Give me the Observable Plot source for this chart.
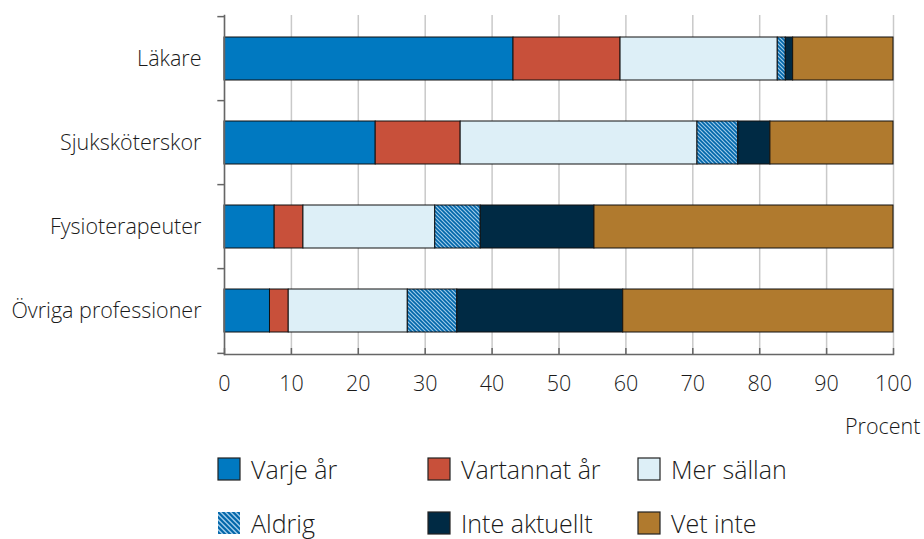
<!DOCTYPE html>
<html>
<head>
<meta charset="utf-8">
<script src="https://cdn.jsdelivr.net/npm/d3@7"></script>
<script src="https://cdn.jsdelivr.net/npm/@observablehq/plot@0.6"></script>
<style>
  html, body { margin: 0; padding: 0; background: #fff; }
  #wrap { position: relative; width: 924px; height: 539px; font-family: "Open Sans", sans-serif; font-weight: 300; }
  #legend { position: absolute; left: 0; top: 0; width: 924px; height: 539px; pointer-events: none; }
  .item { position: absolute; display: flex; align-items: center; font-size: 25px; font-weight: 300; color: #1a1a1a; white-space: nowrap; }
  .item svg { margin-right: 10px; display: block; }
</style>
</head>
<body>
<div id="wrap"><div id="chart"></div><div id="legend"></div></div>
<script>
const categories = ["Läkare", "Sjuksköterskor", "Fysioterapeuter", "Övriga professioner"];
const seriesNames = ["Varje år", "Vartannat år", "Mer sällan", "Aldrig", "Inte aktuellt", "Vet inte"];
const seriesColors = ["#0079C1", "#C8503A", "#DDEFF7", "url(#hatch)", "#002A44", "#B07A2E"];

// Values per series, in category order (percent)
const varjeAr      = [43.2, 22.6, 7.5, 6.8];
const vartannatAr  = [16.0, 12.7, 4.3, 2.8];
const merSallan    = [23.5, 35.4, 19.7, 17.8];
const aldrig       = [1.2, 6.1, 6.8, 7.4];
const inteAktuellt = [1.1, 4.8, 17.0, 24.8];
const vetInte      = [15.0, 18.4, 44.7, 40.4];

const xTicks = [0, 10, 20, 30, 40, 50, 60, 70, 80, 90, 100];

const seriesValues = [varjeAr, vartannatAr, merSallan, aldrig, inteAktuellt, vetInte];
const data = [];
categories.forEach((c, ci) => {
  seriesNames.forEach((s, si) => {
    data.push({category: c, series: s, value: seriesValues[si][ci]});
  });
});

const W = 924, H = 445, mTop = 15, mBottom = 91, mLeft = 224, mRight = 31;
const step = (H - mTop - mBottom) / categories.length;

const plot = Plot.plot({
  width: W,
  height: H,
  marginTop: mTop,
  marginBottom: mBottom,
  marginLeft: mLeft,
  marginRight: mRight,
  style: {fontFamily: "Open Sans", fontSize: "21.5px", fontWeight: 300, color: "#1a1a1a", background: "#fff", overflow: "visible"},
  x: {domain: [0, 100], ticks: xTicks, label: null},
  y: {domain: categories, paddingInner: 0.49, paddingOuter: 0.245, label: null},
  color: {domain: seriesNames, range: seriesColors},
  marks: [
    Plot.gridX(xTicks, {stroke: "#c9c9c9", strokeOpacity: 1, strokeWidth: 1.5}),
    Plot.barX(data, Plot.stackX({
      x: "value", y: "category", fill: "series", order: seriesNames,
      stroke: "#111", strokeWidth: 1, inset: 0
    })),
    Plot.frame({anchor: "left", stroke: "#666", strokeWidth: 1.5}),
    Plot.frame({anchor: "bottom", stroke: "#666", strokeWidth: 1.5}),
    // band-boundary ticks on the left axis
    Plot.ruleY(categories, {y: d => d, dy: -step / 2, x1: -1, x2: 0, stroke: "#666", strokeWidth: 1.5}),
    Plot.ruleY(categories.slice(-1), {y: d => d, dy: step / 2, x1: -1, x2: 0, stroke: "#666", strokeWidth: 1.5}),
    // inward ticks on the bottom axis
    Plot.axisX({ticks: xTicks, tickSize: 6, dy: -6, tickFormat: () => "", stroke: "#666", strokeWidth: 1.5, label: null}),
    Plot.axisX({ticks: xTicks, tickSize: 0, tickPadding: 21, label: null, fill: "#1a1a1a"}),
    Plot.axisY({tickSize: 0, tickPadding: 23, label: null, fill: "#1a1a1a"}),
    Plot.text(["Procent"], {frameAnchor: "bottom-right", dx: 27, dy: 73, textAnchor: "end", lineAnchor: "middle", fill: "#1a1a1a"})
  ]
});

// hatch pattern definitions
const svgSel = d3.select(plot);
const defs = svgSel.insert("defs", ":first-child");
function addHatch(id, size, sw) {
  const pat = defs.append("pattern")
    .attr("id", id)
    .attr("patternUnits", "userSpaceOnUse")
    .attr("width", size)
    .attr("height", size);
  pat.append("rect").attr("width", size).attr("height", size).attr("fill", "#9CC9E8");
  pat.append("path")
    .attr("d", `M-1,-1L${size + 1},${size + 1}M-1,${size - 1}L1,${size + 1}M${size - 1},-1L${size + 1},1`)
    .attr("stroke", "#0066AA")
    .attr("stroke-width", sw)
    .attr("fill", "none");
}
addHatch("hatch", 4, 1.6);
addHatch("hatchLegend", 5, 2);

document.getElementById("chart").appendChild(plot);

// legend
const legend = document.getElementById("legend");
const colX = [218, 428, 638];
const rowY = [469, 523];
seriesNames.forEach((s, i) => {
  const col = i % 3, row = Math.floor(i / 3);
  const item = document.createElement("div");
  item.className = "item";
  item.style.left = (colX[col] - 1) + "px";
  item.style.top = (rowY[row] - 18) + "px";
  item.style.height = "36px";
  const sw = d3.create("svg").attr("width", 24).attr("height", 24);
  const fill = seriesColors[i] === "url(#hatch)" ? "url(#hatchLegend)" : seriesColors[i];
  sw.append("rect").attr("x", 1).attr("y", 1).attr("width", 22).attr("height", 22)
    .attr("fill", fill).attr("stroke", seriesColors[i].startsWith("url") ? "none" : "#222").attr("stroke-width", 1.2);
  item.appendChild(sw.node());
  const t = document.createElement("span");
  t.textContent = s;
  item.appendChild(t);
  legend.appendChild(item);
});
</script>
</body>
</html>
